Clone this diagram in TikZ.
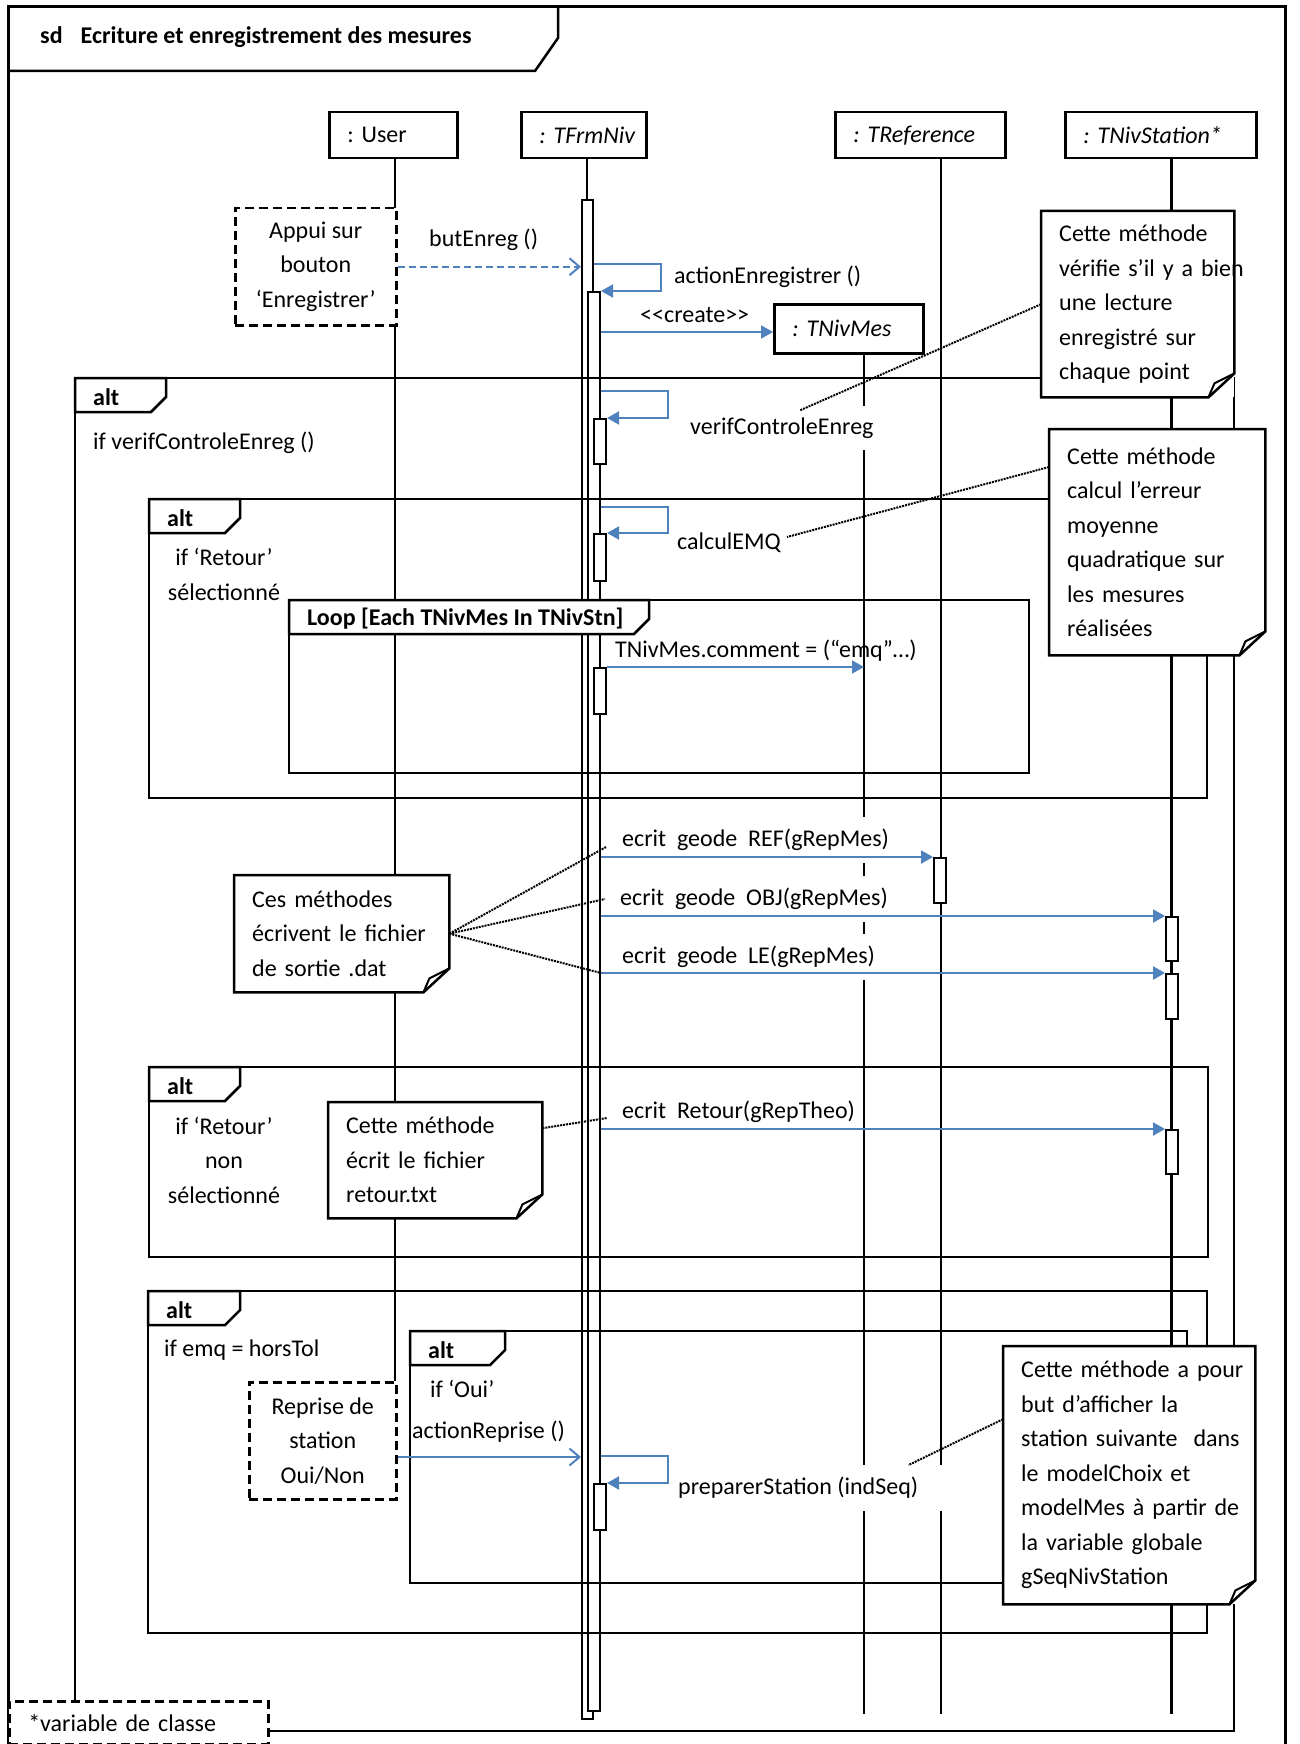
\documentclass[tikz,border=0pt]{standalone}
\usepackage{fontspec}
\setmainfont{Carlito}
\usetikzlibrary{arrows.meta, positioning, calc}
\definecolor{msgblue}{HTML}{4F81BD}
\newcommand{\dgfont}{\fontsize{24pt}{34.5pt}\selectfont
  \hyphenpenalty=10000 \exhyphenpenalty=10000 }

\tikzset{
  lifehead/.style={draw, line width=2.5pt, fill=white, anchor=north west,
    minimum height=46pt, inner xsep=18pt, inner ysep=0pt, align=left,
    font=\dgfont\itshape},
  lifeline/.style={line width=2pt},
  actbar/.style={draw, line width=2pt, fill=white, anchor=north west,
    inner sep=0pt, minimum width=12pt},
  frag/.style={line width=2.5pt},
  fraglbl/.style={font=\dgfont\bfseries, anchor=west, inner sep=0pt},
  cond/.style={font=\dgfont, inner sep=0pt, align=center},
  msglbl/.style={font=\dgfont, fill=white, anchor=west, inner xsep=6pt, inner ysep=12pt},
  msg/.style={msgblue, line width=2pt, -{Triangle[length=12pt, width=13pt]}},
  msgopen/.style={msgblue, line width=2pt, -{Straight Barb[length=10pt, width=17pt]}},
  umlnote/.style={fill=white, anchor=north west, inner xsep=18pt, inner ysep=0pt,
    align=left, font=\dgfont},
  noteedge/.style={line width=2.5pt},
  notelink/.style={densely dotted, line width=2pt},
  actor/.style={draw, dash pattern=on 9pt off 5pt, line width=2.5pt, fill=white,
    anchor=north west, align=center, font=\dgfont, inner sep=0pt},
}

\begin{document}
\begin{tikzpicture}[x=1pt, y=-1pt]
\useasboundingbox (0,0) rectangle (1299,1744);

% sd frame and title tab
\draw[frag, line width=3pt] (8,7) rectangle (1285,1760);
\draw[frag] (8,71) -- (535,71) -- (558,38) -- (558,7);
\node[font=\dgfont\bfseries, anchor=west, inner sep=0pt] (title) at (40,37)
  {sd\hspace{18pt}Ecriture et enregistrement des mesures};

% lifeline heads
\node[lifehead, font=\dgfont, text width=92pt] (hUser) at (328,111) {:~User};
\node[lifehead, text width=89pt] (hFrm) at (520,111) {:~TFrmNiv};
\node[lifehead, text width=134pt] (hRef) at (834,111) {:~TReference};
\node[lifehead, text width=155pt] (hStn) at (1064,111) {:~TNivStation*};
\node[lifehead, text width=113pt, minimum height=49pt] (hMes) at (773,303) {:~TNivMes};

% lifelines
\coordinate (xUser) at (395,0);
\coordinate (xFrm) at (587,0);
\coordinate (xMes) at (864,0);
\coordinate (xRef) at (941,0);
\coordinate (xStn) at (1171.5,0);
\draw[lifeline, line width=2.5pt] (xUser |- hUser.south) -- (xUser |- 0,1381);
\draw[lifeline] (xFrm |- hFrm.south) -- (xFrm |- 0,199);
\draw[lifeline, line width=1.5pt] (xMes |- hMes.south) -- (xMes |- 0,1714);
\draw[lifeline, line width=1.5pt] (xRef |- hRef.south) -- (xRef |- 0,1714);
\draw[lifeline, line width=3pt] (xStn |- hStn.south) -- (xStn |- 0,1714);

% activation bars
\node[actbar, minimum width=11pt, minimum height=1519pt] (bFrm) at (581,199) {};
\node[actbar, minimum height=1419pt] (bFrmIn) at (587,291) {};
\foreach \nm/\x/\y/\h in {bVerif/593/418/45, bCalc/593/533/47, bLoop/593/667/46,
    bPrep/593/1483/46, bRef/933/857/45, bObj/1165/916/44, bLe/1165/973/45,
    bRet/1165/1129/44}
  \node[actbar, minimum height=\h pt] (\nm) at (\x,\y) {};

% combined fragments
\foreach \xa/\ya/\xb/\yb/\tw/\lab in {75/378/1234/1731/91/alt, 149/499/1207/798/91/alt,
    289/600/1029/773/360/{Loop [Each TNivMes In TNivStn]}, 149/1067/1208/1257/91/alt,
    148/1291/1207/1633/92/alt, 410/1331/1187/1583/95/alt} {
  \draw[frag] (\xa,\ya) rectangle (\xb,\yb);
  \draw[frag, fill=white] (\xa,\ya) -- ++(\tw,0) -- ++(0,19) -- ++(-15,15)
    -- ({\xa},{\ya+34}) -- cycle;
  \node[fraglbl] at ({\xa+18},{\ya+19}) {\lab};
}

% guards
\node[cond, anchor=west] (cVerif) at (93,443) {if verifControleEnreg ()};
\node[cond] (cRetour) at (224,574.5) {if ‘Retour’\\sélectionné};
\node[cond] (cNon) at (224,1160) {if ‘Retour’\\non\\sélectionné};
\node[cond, anchor=west] (cEmq) at (164,1350) {if emq = horsTol};
\node[cond, anchor=west] (cOui) at (430,1389) {if ‘Oui’};

% message labels
\node[msglbl] (lBut) at (423,240) {butEnreg ()};
\node[msglbl] (lAct) at (668,277) {actionEnregistrer ()};
\node[msglbl] (lCreate) at (634,315) {<{}<create>{}>};
\node[msglbl] (lVerif) at (684,428) {verifControleEnreg};
\node[msglbl] (lCalc) at (671,543) {calculEMQ};
\node[msglbl, fill=none] (lComment) at (609,651) {TNivMes.comment = (“emq”…)};
\node[msglbl] (lRef) at (616,840) {ecrit~ geode~ REF(gRepMes)};
\node[msglbl] (lObj) at (614,899) {ecrit~ geode~ OBJ(gRepMes)};
\node[msglbl] (lLe) at (616,957) {ecrit~ geode~ LE(gRepMes)};
\node[msglbl] (lRet) at (616,1112) {ecrit~ Retour(gRepTheo)};
\node[msglbl, fill=none] (lRepr) at (406,1432) {actionReprise ()};
\node[msglbl, inner xsep=24pt] (lPrep) at (654,1488) {preparerStation (indSeq)};

% user actions
\node[actor, minimum width=161pt, minimum height=117pt] (appui) at (234,207)
  {Appui sur\\bouton\\‘Enregistrer’};
\node[actor, minimum width=147pt, minimum height=117pt] (reprise) at (248,1381)
  {Reprise de\\station\\Oui/Non};

% messages
\draw[msgopen, dash pattern=on 7pt off 4pt] (appui.east) -- (bFrm.west |- appui.east);
\draw[msg] (bFrm.east |- 0,264) -- ++(67,0) |- (bFrmIn.north east);
\draw[msg] (bFrmIn.east |- 0,332) -- (hMes.west |- 0,332);
\draw[msg] (bFrmIn.east |- 0,391) -- ++(67,0) |- (bVerif.north east);
\draw[msg] (bFrmIn.east |- 0,507) -- ++(67,0) |- (bCalc.north east);
\draw[msg, line width=1.5pt] (bLoop.north east) -- (xMes |- bLoop.north east);
\draw[msg] (bFrmIn.east |- bRef.north west) -- (bRef.north west);
\draw[msg] (bFrmIn.east |- bObj.north west) -- (bObj.north west);
\draw[msg, line width=2.5pt] (bFrmIn.east |- bLe.north west) -- (bLe.north west);
\draw[msg] (bFrmIn.east |- bRet.north west) -- (bRet.north west);
\draw[msgopen] (reprise.east |- 0,1457) -- (bFrm.west |- 0,1457);
\draw[msg] (bFrmIn.east |- 0,1456) -- ++(67,0) |- (bPrep.north east);

% notes
\node[umlnote, text width=157pt, minimum height=186pt] (nVerif) at (1041,211)
  {Cette méthode\\vérifie~s’il~y~a~bien\\une lecture\\enregistré sur\\chaque point};
\node[umlnote, text width=180pt, minimum height=226pt] (nCalc) at (1049,429)
  {Cette méthode\\calcul l’erreur\\moyenne\\quadratique sur\\les mesures\\réalisées};
\node[umlnote, text width=179pt, minimum height=117pt] (nEcrit) at (234,875)
  {Ces méthodes\\écrivent le fichier\\de sortie .dat};
\node[umlnote, text width=178pt, minimum height=116pt] (nRetour) at (328,1102)
  {Cette méthode\\écrit le fichier\\retour.txt};
\node[umlnote, text width=216pt, minimum height=258pt] (nPrep) at (1003,1346)
  {Cette~méthode~a~pour\\but d’afficher la\\station~suivante~~dans\\le modelChoix et\\modelMes~à~partir~de\\la variable globale\\gSeqNivStation};

\foreach \n in {nVerif,nCalc,nEcrit,nRetour,nPrep} {
  \draw[noteedge] (\n.north west) -- (\n.north east) -- ([yshift=24pt]\n.south east)
    -- ([xshift=-26pt]\n.south east) -- (\n.south west) -- cycle;
  \draw[noteedge, line width=2pt] ([yshift=24pt]\n.south east)
    -- ([xshift=-20pt, yshift=14pt]\n.south east) -- ([xshift=-26pt]\n.south east);
}

% note links
\draw[notelink] (nVerif.west) -- ([shift={(18pt,-5pt)}]lVerif.north);
\draw[notelink] ([yshift=-38pt]nCalc.north west) -- ([yshift=6pt]lCalc.east);
\draw[notelink] (nEcrit.east) -- ([shift={(-10pt,-7pt)}]lRef.west);
\draw[notelink] (nEcrit.east) -- ([xshift=-9pt]lObj.west);
\draw[notelink] (nEcrit.east) -- (bFrmIn.east |- bLe.north west);
\draw[notelink] ([yshift=32pt]nRetour.east) -- ([shift={(-9pt,-6pt)}]lRet.west);
\draw[notelink] ([yshift=56pt]nPrep.west) -- ([xshift=-34pt]lPrep.north east);

% class variable remark
\node[actor, align=left, text width=221pt, inner xsep=19pt, inner ysep=13pt]
  (legend) at (8,1700) {*variable de classe};

\end{tikzpicture}
\end{document}
